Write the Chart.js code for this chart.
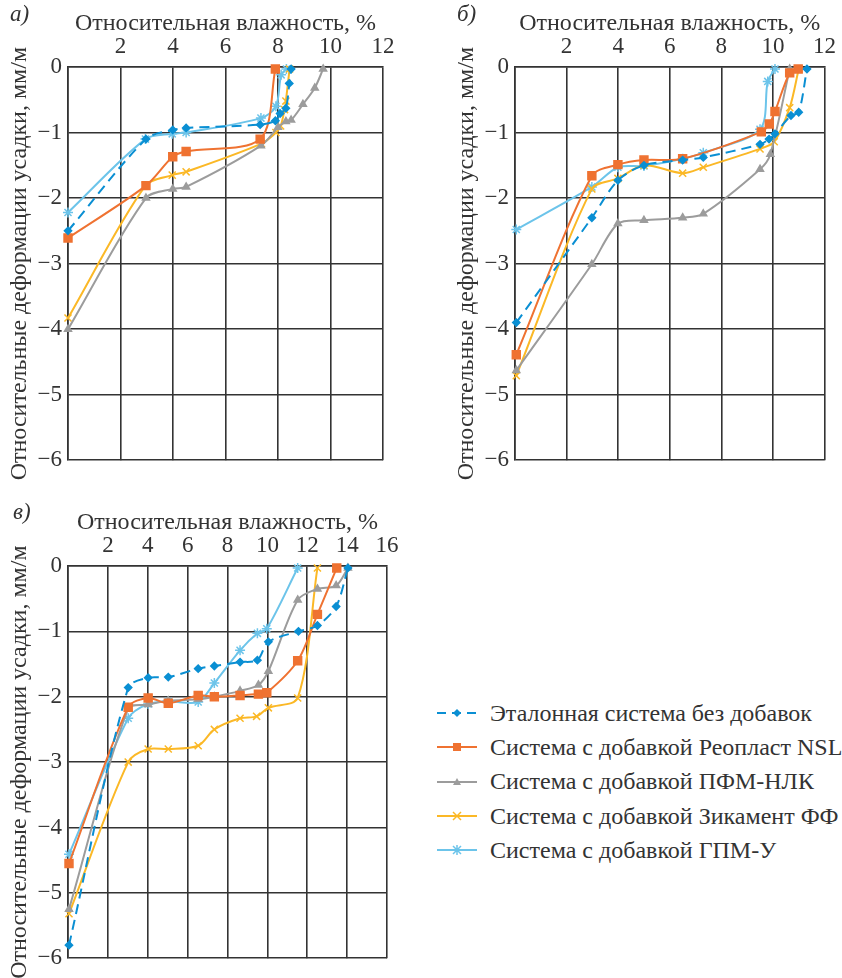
<!DOCTYPE html>
<html>
<head>
<meta charset="utf-8">
<script src="https://cdn.jsdelivr.net/npm/chart.js@4/dist/chart.umd.min.js"></script>
<style>
  body { margin: 0; background: #fff; font-family: "Liberation Serif", "Times New Roman", "DejaVu Serif", serif; }
  #page { position: relative; width: 842px; height: 978px; overflow: hidden; }
  .box { position: absolute; }
  .tag { position: absolute; font-style: italic; font-size: 23px; color: #333; }
  #legend { position: absolute; left: 436px; top: 696px; }
  .item { display: flex; align-items: center; height: 34.3px; font-size: 24px; color: #333; white-space: nowrap; }
  .item svg { margin-right: 12px; }
</style>
</head>
<body>
<div id="page">
  <div class="box" style="left:0;top:0"><canvas id="chartA" width="420" height="480"></canvas></div>
  <div class="box" style="left:420px;top:0"><canvas id="chartB" width="422" height="480"></canvas></div>
  <div class="box" style="left:0;top:490px"><canvas id="chartC" width="420" height="488"></canvas></div>
  <div class="tag" style="left:10px;top:1px">а)</div>
  <div class="tag" style="left:457px;top:1px">б)</div>
  <div class="tag" style="left:13px;top:499px">в)</div>
  <div id="legend"></div>
</div>
<script>
// --- Данные (влажность, %; деформация, мм/м) ---
const seriesNames = [
    'Эталонная система без добавок',
    'Система с добавкой Реопласт NSL',
    'Система с добавкой ПФМ-НЛК',
    'Система с добавкой Зикамент ФФ',
    'Система с добавкой ГПМ-У'
];

// а)
const aEtalon  = [[0,-2.5],[2.97,-1.1],[3.99,-0.96],[4.5,-0.93],[7.32,-0.88],[7.9,-0.82],[8.08,-0.71],[8.3,-0.63],[8.43,-0.25],[8.5,-0.03]];
const aReoplast = [[0,-2.61],[2.97,-1.81],[3.99,-1.37],[4.5,-1.29],[7.32,-1.1],[7.9,-0.03]];
const aPfm     = [[0,-4.0],[2.97,-2.0],[3.99,-1.86],[4.5,-1.83],[7.35,-1.2],[8.0,-0.92],[8.3,-0.83],[8.5,-0.81],[8.95,-0.57],[9.4,-0.32],[9.72,-0.03]];
const aZikament = [[0,-3.83],[2.95,-1.81],[3.97,-1.65],[4.5,-1.6],[7.37,-1.17],[7.92,-1.0],[8.1,-0.9],[8.25,-0.65],[8.3,-0.52],[8.44,-0.03]];
const aGpm     = [[0,-2.22],[2.95,-1.1],[3.97,-1.02],[4.5,-1.0],[7.35,-0.78],[7.92,-0.6],[8.12,-0.12],[8.32,-0.03]];

// б)
const bEtalon  = [[0.05,-3.9],[2.98,-2.3],[3.99,-1.73],[5.0,-1.5],[6.5,-1.42],[7.3,-1.38],[9.5,-1.18],[9.85,-1.1],[10.08,-1.02],[10.7,-0.74],[11.0,-0.69],[11.32,-0.03]];
const bReoplast = [[0.05,-4.39],[2.98,-1.66],[3.99,-1.49],[5.0,-1.42],[6.5,-1.4],[9.55,-0.99],[9.86,-0.87],[10.08,-0.68],[10.65,-0.09],[10.98,-0.03]];
const bPfm     = [[0.05,-4.63],[2.98,-3.01],[3.99,-2.39],[5.0,-2.34],[6.5,-2.3],[7.3,-2.24],[9.5,-1.56],[9.9,-1.33],[10.65,-0.03]];
const bZikament = [[0.05,-4.71],[2.98,-1.86],[3.99,-1.7],[5.0,-1.5],[6.5,-1.62],[7.3,-1.53],[9.5,-1.25],[10.05,-1.14],[10.65,-0.62],[11.0,-0.03]];
const bGpm     = [[0.05,-2.48],[2.98,-1.83],[3.99,-1.53],[5.0,-1.51],[6.5,-1.4],[7.3,-1.31],[9.5,-0.95],[9.8,-0.22],[10.08,-0.03]];

// в)
const cEtalon  = [[0.05,-5.8],[3.02,-1.86],[4.02,-1.71],[5.03,-1.7],[6.53,-1.57],[7.34,-1.53],[8.63,-1.47],[9.5,-1.44],[10.05,-1.16],[11.56,-1.0],[12.51,-0.91],[13.45,-0.62],[14.04,-0.03]];
const cReoplast = [[0.05,-4.55],[3.02,-2.16],[4.02,-2.02],[5.03,-2.1],[6.53,-1.98],[7.34,-2.0],[8.63,-1.98],[9.55,-1.96],[9.97,-1.94],[11.52,-1.45],[12.51,-0.74],[13.48,-0.03]];
const cPfm     = [[0.05,-5.25],[3.02,-2.18],[4.02,-2.12],[5.03,-2.06],[6.53,-2.04],[7.34,-2.0],[8.63,-1.91],[9.55,-1.82],[10.05,-1.61],[11.52,-0.52],[12.51,-0.35],[13.45,-0.3],[14.04,-0.03]];
const cZikament = [[0.05,-5.32],[3.02,-3.0],[4.02,-2.8],[5.03,-2.8],[6.53,-2.75],[7.34,-2.5],[8.63,-2.33],[9.46,-2.3],[10.05,-2.17],[11.52,-2.02],[12.51,-0.03]];
const cGpm     = [[0.05,-4.41],[3.02,-2.33],[4.02,-2.11],[5.03,-2.07],[6.53,-2.08],[7.34,-1.79],[8.63,-1.29],[9.5,-1.03],[9.97,-0.96],[11.52,-0.03]];

const xTitle = 'Относительная влажность, %';
const yTitle = 'Относительные деформации усадки, мм/м';

// --- Стили серий ---
const styles = [
    { color: '#0a8fd3', pointStyle: 'rectRot', radius: 3.6, dash: [10, 6] },
    { color: '#ef7231', pointStyle: 'rect', radius: 5.6, dash: [] },
    { color: '#9c9c9c', pointStyle: 'triangle', radius: 4, dash: [] },
    { color: '#fbb826', pointStyle: 'crossRot', radius: 5, dash: [] },
    { color: '#6cc4ea', pointStyle: 'star', radius: 5, dash: [] }
];

const gridColor = '#333';
const font = "'Liberation Serif', 'Times New Roman', 'DejaVu Serif', serif";

function toPoints(arr) {
    return arr.map(p => ({ x: p[0], y: p[1] }));
}

function buildDatasets(list) {
    return list.map((arr, i) => ({
        label: seriesNames[i],
        data: toPoints(arr),
        showLine: true,
        borderColor: styles[i].color,
        backgroundColor: styles[i].color,
        borderWidth: 2,
        borderDash: styles[i].dash,
        pointStyle: styles[i].pointStyle,
        pointRadius: styles[i].radius,
        pointBorderWidth: 1.5,
        pointBorderColor: styles[i].color,
        pointBackgroundColor: styles[i].color,
        tension: 0.3,
        clip: false
    }));
}

function renderPanel(canvasId, list, xMax, padding) {
    new Chart(document.getElementById(canvasId).getContext('2d'), {
        type: 'scatter',
        data: { datasets: buildDatasets(list) },
        options: {
            responsive: false,
            animation: false,
            layout: { padding: padding },
            plugins: { legend: { display: false }, tooltip: { enabled: false } },
            scales: {
                x: {
                    type: 'linear',
                    position: 'top',
                    min: 0, max: xMax,
                    afterFit: s => { s.height = 67; },
                    ticks: {
                        stepSize: 2, padding: 6, color: '#333',
                        font: { family: font, size: 23 },
                        callback: v => v === 0 ? '' : v
                    },
                    grid: { color: gridColor, lineWidth: 1.6, drawTicks: false },
                    border: { color: gridColor, width: 1.6 },
                    title: {
                        display: true, text: xTitle, color: '#333',
                        font: { family: font, size: 24 },
                        padding: { top: 9, bottom: 0 }
                    }
                },
                y: {
                    type: 'linear',
                    min: -6, max: 0,
                    afterFit: s => { s.width = 68; },
                    ticks: {
                        stepSize: 1, padding: 6, color: '#333',
                        font: { family: font, size: 23 },
                        callback: v => String(v).replace('-', '\u2212')
                    },
                    grid: { color: gridColor, lineWidth: 1.6, drawTicks: false },
                    border: { color: gridColor, width: 1.6 },
                    title: {
                        display: true, text: yTitle, color: '#333',
                        font: { family: font, size: 24 },
                        padding: { top: 5, bottom: 0 }
                    }
                }
            }
        }
    });
}

renderPanel('chartA', [aEtalon, aReoplast, aPfm, aZikament, aGpm], 12, { left: 0, top: 0, right: 37, bottom: 17 });
renderPanel('chartB', [bEtalon, bReoplast, bPfm, bZikament, bGpm], 12, { left: 27, top: 0, right: 11, bottom: 17 });
renderPanel('chartC', [cEtalon, cReoplast, cPfm, cZikament, cGpm], 16, { left: 0, top: 9, right: 33, bottom: 15 });

// --- Легенда ---
function markerSvg(i, c) {
    const cx = 21, cy = 9;
    switch (styles[i].pointStyle) {
        case 'rectRot': return `<polygon points="${cx},${cy-4} ${cx+4},${cy} ${cx},${cy+4} ${cx-4},${cy}" fill="${c}"/>`;
        case 'rect': return `<rect x="${cx-4}" y="${cy-4}" width="8" height="8" fill="${c}"/>`;
        case 'triangle': return `<polygon points="${cx},${cy-4} ${cx+4},${cy+3} ${cx-4},${cy+3}" fill="${c}"/>`;
        case 'crossRot': return `<path d="M${cx-4} ${cy-4}L${cx+4} ${cy+4}M${cx+4} ${cy-4}L${cx-4} ${cy+4}" stroke="${c}" stroke-width="1.5"/>`;
        default: return `<path d="M${cx-4} ${cy-4}L${cx+4} ${cy+4}M${cx+4} ${cy-4}L${cx-4} ${cy+4}M${cx} ${cy-5}L${cx} ${cy+5}" stroke="${c}" stroke-width="1.5"/>`;
    }
}

const legend = document.getElementById('legend');
seriesNames.forEach((name, i) => {
    const c = styles[i].color;
    const dash = styles[i].dash.length ? 'stroke-dasharray="9 6"' : '';
    const row = document.createElement('div');
    row.className = 'item';
    row.innerHTML = `<svg width="42" height="18"><line x1="1" y1="9" x2="41" y2="9" stroke="${c}" stroke-width="2" ${dash}/>${markerSvg(i, c)}</svg><span>${name}</span>`;
    legend.appendChild(row);
});
</script>
</body>
</html>
